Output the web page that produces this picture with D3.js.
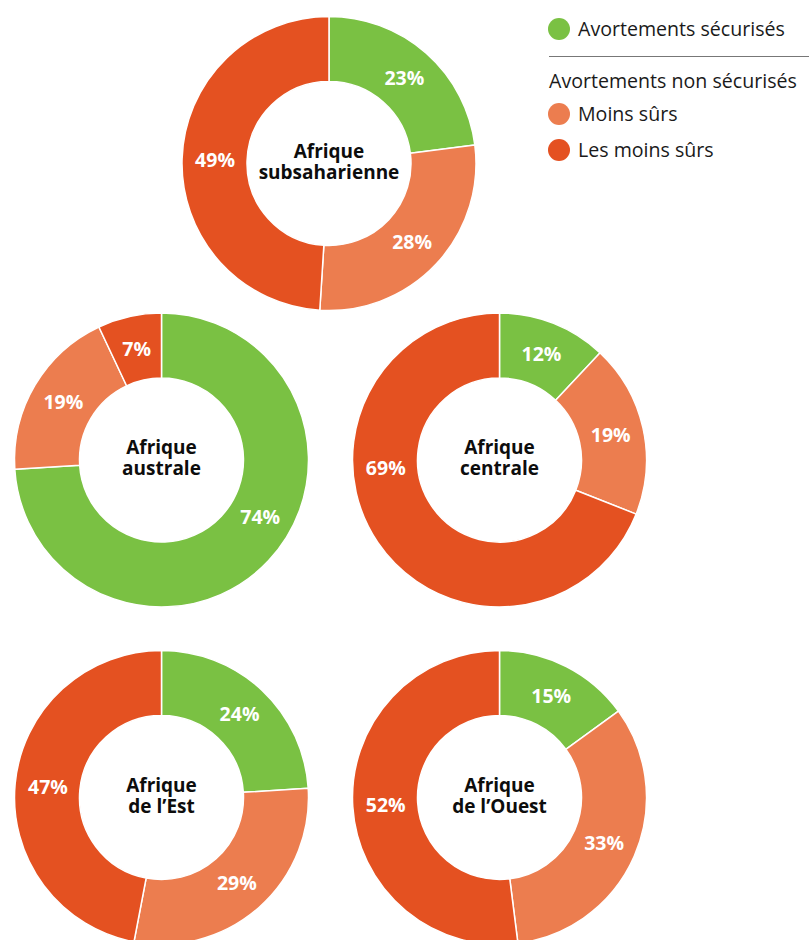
<!DOCTYPE html>
<html>
<head>
<meta charset="utf-8">
<script src="https://cdn.jsdelivr.net/npm/d3@7"></script>
<style>
  html, body { margin: 0; padding: 0; background: #fff; }
  svg { display: block; }
</style>
</head>
<body>
<svg id="chart" width="809" height="940"></svg>
<script>
// Abortion safety by African region (share of all abortions, %)
const regions = ["Afrique subsaharienne", "Afrique australe", "Afrique centrale", "Afrique de l'Est", "Afrique de l'Ouest"];
const titleLines = [["Afrique", "subsaharienne"], ["Afrique", "australe"], ["Afrique", "centrale"], ["Afrique", "de l\u2019Est"], ["Afrique", "de l\u2019Ouest"]];
const categories = ["Avortements sécurisés", "Moins sûrs", "Les moins sûrs"];
const safe       = [23, 74, 12, 24, 15];
const lessSafe   = [28, 19, 19, 29, 33];
const leastSafe  = [49,  7, 69, 47, 52];
const legendGroupTitle = "Avortements non sécurisés";

const colors = ["#7ac143", "#ec7d4f", "#e45121"];
const FONT = "'Open Sans', Roboto, 'Noto Sans', sans-serif";

const svg = d3.select("#chart");
const W = 809;

// Layout of the five rings
const outerR = 147, innerR = 82, labelR = 114;
const centers = [
  [329, 163.5],
  [161.5, 460],
  [499.5, 460],
  [161.5, 797.5],
  [499.5, 797.5]
];

// A few large slices carry their label away from the centroid
const labelAngleOverride = { "Afrique australe|0": 120, "Afrique centrale|2": 266 };

const colorScale = d3.scaleOrdinal().domain(categories).range(colors);
const pie = d3.pie().sort(null).value(d => d.value);
const arc = d3.arc().innerRadius(innerR).outerRadius(outerR);

regions.forEach((name, i) => {
  const data = [
    { cat: categories[0], value: safe[i] },
    { cat: categories[1], value: lessSafe[i] },
    { cat: categories[2], value: leastSafe[i] }
  ];
  const g = svg.append("g").attr("transform", `translate(${centers[i][0]},${centers[i][1]})`);
  const arcs = pie(data);

  g.selectAll("path.slice")
    .data(arcs)
    .join("path")
    .attr("class", "slice")
    .attr("d", arc)
    .attr("fill", d => colorScale(d.data.cat))
    .attr("stroke", "#fff")
    .attr("stroke-width", 1.5)
    .attr("stroke-linejoin", "round");

  g.selectAll("text.pct")
    .data(arcs)
    .join("text")
    .attr("class", "pct")
    .attr("transform", (d, j) => {
      const key = name + "|" + j;
      let a = (d.startAngle + d.endAngle) / 2;
      if (labelAngleOverride[key] !== undefined) a = labelAngleOverride[key] * Math.PI / 180;
      const x = labelR * Math.sin(a), y = -labelR * Math.cos(a);
      return `translate(${x},${y})`;
    })
    .attr("text-anchor", "middle")
    .attr("dy", "0.36em")
    .attr("fill", "#fff")
    .attr("font-family", FONT)
    .attr("font-weight", 700)
    .attr("font-size", 19.5)
    .text(d => d.data.value + "%");

  const t = g.append("text")
    .attr("text-anchor", "middle")
    .attr("font-family", FONT)
    .attr("font-weight", 700)
    .attr("font-size", 19)
    .attr("fill", "#0d0d0d");
  titleLines[i].forEach((line, k) => {
    t.append("tspan").attr("x", 0).attr("y", -6 + k * 21).text(line);
  });
});

// Legend
const legend = svg.append("g").attr("font-family", FONT).attr("font-size", 19.6).attr("fill", "#1a1a1a");
const lx = 559;
legend.append("circle").attr("cx", lx).attr("cy", 29).attr("r", 11).attr("fill", colors[0]);
legend.append("text").attr("x", 578).attr("y", 36).text(categories[0]);
legend.append("line").attr("x1", 549).attr("x2", W).attr("y1", 56.5).attr("y2", 56.5).attr("stroke", "#777").attr("stroke-width", 1.2);
legend.append("text").attr("x", 549).attr("y", 88).text(legendGroupTitle);
legend.append("circle").attr("cx", lx).attr("cy", 114).attr("r", 11).attr("fill", colors[1]);
legend.append("text").attr("x", 578).attr("y", 121).text(categories[1]);
legend.append("circle").attr("cx", lx).attr("cy", 150).attr("r", 11).attr("fill", colors[2]);
legend.append("text").attr("x", 578).attr("y", 157).text(categories[2]);
</script>
</body>
</html>
